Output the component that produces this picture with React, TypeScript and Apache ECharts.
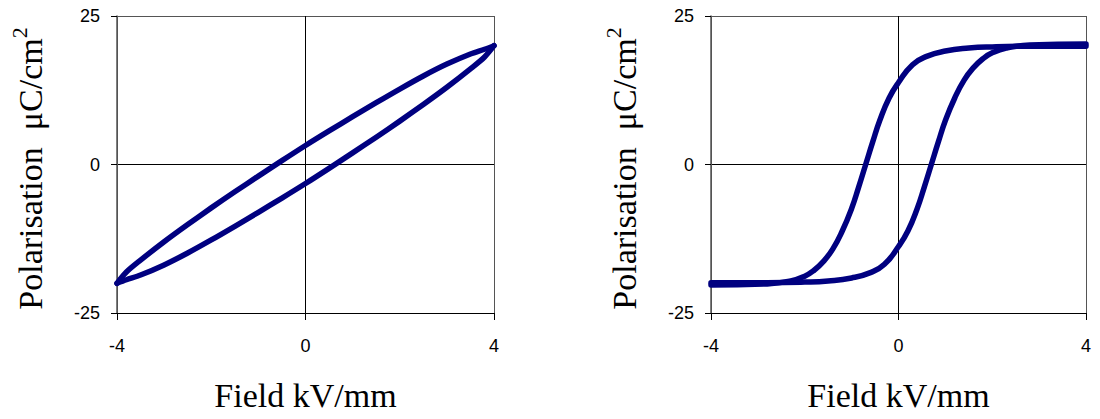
import React, { useEffect, useRef } from "react";
import * as echarts from "echarts";

// Tick values shown on the axes
const xTicks = [-4, 0, 4];
const yTicks = [-25, 0, 25];

// Left panel: linear (lossy) dielectric loop
const linUpperField = [4, 3.8, 3.5, 3, 2.5, 2, 1.5, 1, 0.5, 0, -0.5, -1, -1.5, -2, -2.5, -3, -3.5, -3.8, -4];
const linUpperPol = [20, 19.4, 18.6, 16.9, 14.9, 12.7, 10.4, 8.05, 5.65, 3.2, 0.65, -1.95, -4.6, -7.3, -10.1, -13, -16.1, -18.1, -20];
const linLowerField = [-4, -3.8, -3.5, -3, -2.5, -2, -1.5, -1, -0.5, 0, 0.5, 1, 1.5, 2, 2.5, 3, 3.5, 3.8, 4];
const linLowerPol = [-20, -19.4, -18.6, -16.9, -14.9, -12.7, -10.4, -8.05, -5.65, -3.2, -0.65, 1.95, 4.6, 7.3, 10.1, 13, 16.1, 18.1, 20];

// Right panel: ferroelectric hysteresis loop
const ferroUpperField = [4, 2.8, 2, 1.5, 1.0, 0.6, 0.3, 0, -0.2, -0.4, -0.55, -0.7, -0.85, -1, -1.2, -1.4, -1.6, -1.8, -2, -2.3, -2.8, -4];
const ferroUpperPol = [19.9, 19.9, 19.8, 19.6, 19.1, 18.2, 16.8, 13.8, 11.2, 7.4, 3.8, 0, -3.8, -7.4, -11.2, -14.2, -16.3, -17.8, -18.8, -19.6, -20.1, -20.3];
const ferroLowerField = [-4, -2.8, -2, -1.5, -1.0, -0.6, -0.3, 0, 0.2, 0.4, 0.55, 0.7, 0.85, 1, 1.2, 1.4, 1.6, 1.8, 2, 2.3, 2.8, 4];
const ferroLowerPol = [-19.9, -19.9, -19.8, -19.6, -19.1, -18.2, -16.8, -13.8, -11.2, -7.4, -3.8, 0, 3.8, 7.4, 11.2, 14.2, 16.3, 17.8, 18.8, 19.6, 20.1, 20.3];

const xTitle = "Field kV/mm";
const yTitleMain = "Polarisation  \u03bcC/cm";
const yTitleSup = "2";

const zip = (xs: number[], ys: number[]) => xs.map((x, i) => [x, ys[i]]);

const LINE_COLOR = "#000080";
const SANS = "'Liberation Sans', Arial, sans-serif";
const SERIF = "'Liberation Serif', 'Times New Roman', serif";

function makeX(gridIndex: number) {
  return {
    type: "value",
    gridIndex,
    min: xTicks[0],
    max: xTicks[xTicks.length - 1],
    interval: xTicks[1] - xTicks[0],
    name: xTitle,
    nameLocation: "middle",
    nameGap: 65,
    nameTextStyle: { fontFamily: SERIF, fontSize: 34, color: "#000" },
    axisLine: { show: true, onZero: false, lineStyle: { color: "#000", width: 1 } },
    axisTick: { show: true, inside: false, length: 7, lineStyle: { color: "#000", width: 1 } },
    axisLabel: { fontFamily: SANS, fontSize: 18, color: "#000", margin: 24 },
    splitLine: { show: true, lineStyle: { color: ["#555", "#000", "#555"], width: 1 } },
  };
}

function makeY(gridIndex: number) {
  return {
    type: "value",
    gridIndex,
    min: yTicks[0],
    max: yTicks[yTicks.length - 1],
    interval: yTicks[1] - yTicks[0],
    name: `{m|${yTitleMain}}{s|${yTitleSup}}`,
    nameLocation: "middle",
    nameRotate: 90,
    nameGap: 65,
    nameTextStyle: {
      fontFamily: SERIF,
      color: "#000",
      rich: {
        m: { fontFamily: SERIF, fontSize: 34, lineHeight: 44, verticalAlign: "middle", color: "#000" },
        s: { fontFamily: SERIF, fontSize: 22, lineHeight: 22, verticalAlign: "top", color: "#000", padding: [0, 8, 0, 0] },
      },
    },
    axisLine: { show: true, onZero: false, lineStyle: { color: "#555", width: 1.5 } },
    axisTick: { show: true, inside: false, length: 6, lineStyle: { color: "#000", width: 1 } },
    axisLabel: { fontFamily: SANS, fontSize: 18, color: "#000", margin: 17 },
    splitLine: { show: true, lineStyle: { color: ["#000", "#000", "#555"], width: 1 } },
  };
}

function lineSeries(data: number[][], idx: number, smooth: number) {
  return {
    type: "line",
    xAxisIndex: idx,
    yAxisIndex: idx,
    data,
    smooth,
    showSymbol: false,
    symbol: "none",
    clip: false,
    lineStyle: { color: LINE_COLOR, width: 5.5, cap: "round", join: "round" },
    z: 5,
  };
}

export default function App() {
  const ref = useRef<HTMLDivElement>(null);
  useEffect(() => {
    document.body.style.margin = "0";
    if (!ref.current) return;
    const chart = echarts.init(ref.current, null, { renderer: "svg" });
    chart.setOption({
      animation: false,
      backgroundColor: "#fff",
      grid: [
        { left: 117, top: 16, width: 377, height: 297, outerBoundsMode: "none", containLabel: false },
        { left: 711, top: 16, width: 375, height: 297, outerBoundsMode: "none", containLabel: false },
      ],
      xAxis: [makeX(0), makeX(1)],
      yAxis: [makeY(0), makeY(1)],
      series: [
        lineSeries(zip(linUpperField, linUpperPol), 0, 0.3),
        lineSeries(zip(linLowerField, linLowerPol), 0, 0.3),
        lineSeries(zip(ferroUpperField, ferroUpperPol), 1, 0.5),
        lineSeries(zip(ferroLowerField, ferroLowerPol), 1, 0.5),
      ],
    });
    return () => chart.dispose();
  }, []);
  return <div ref={ref} style={{ width: 1100, height: 419 }} />;
}
